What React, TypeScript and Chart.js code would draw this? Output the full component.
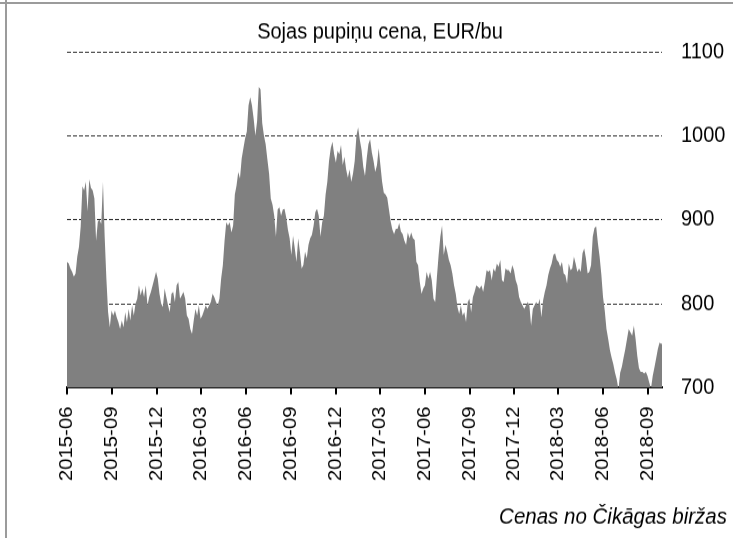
import React, { useEffect, useRef } from 'react';
import { Chart, registerables } from 'chart.js';

Chart.register(...registerables);

const chartTitle = 'Sojas pupiņu cena, EUR/bu';
const sourceNote = 'Cenas no Čikāgas biržas';

const tickLabels = [
  '2015-06', '2015-09', '2015-12', '2016-03', '2016-06', '2016-09', '2016-12',
  '2017-03', '2017-06', '2017-09', '2017-12', '2018-03', '2018-06', '2018-09',
];
const yTicks = [700, 800, 900, 1000, 1100];

const START_YEAR = 2015;
const START_MONTH = 6;
const STEP_DAYS = 3.5;
const X_MAX_DAYS = 1216;
const Y_MIN = 700;
const Y_MAX = 1100;

// Prices (EUR/bu), sampled twice a week from 2015-06-01
const pricesJun2015Dec2015 = [
  850, 848, 842, 838, 832, 836, 856, 868, 892, 940,
  935, 945, 910, 948, 938, 935, 925, 875, 898, 900,
  895, 945, 880, 830, 790, 772, 792, 786, 792, 784,
  778, 770, 780, 772, 790, 778, 794, 780, 798, 786,
  800, 806, 822, 810, 818, 808, 822, 798, 808, 814,
  822, 830, 838, 830, 812, 800,
];
const pricesDec2015Jul2016 = [
  796, 818, 808, 798, 790, 812, 814, 802, 822, 826,
  806, 810, 814, 806, 786, 782, 770, 764, 780, 794,
  786, 798, 782, 786, 792, 798, 794, 798, 802, 812,
  808, 802, 798, 806, 830, 846, 875, 897, 893, 897,
  885, 893, 930, 941, 957, 949, 973, 985, 997, 1005,
  1036, 1046, 1036, 1020, 1000, 1017, 1058, 1055,
];
const pricesJul2016Jan2017 = [
  1015, 1000, 990, 972, 955, 925, 918, 905, 880, 912,
  915, 905, 912, 913, 903, 888, 878, 858, 881, 866,
  850, 878, 862, 842, 846, 862, 854, 870, 878, 882,
  893, 909, 913, 905, 880, 897, 905, 930, 945, 970,
  985, 993, 978, 968, 982, 978, 989, 965, 975, 960,
  950, 960, 945, 955, 970, 1000, 1010,
];
const pricesJan2017Aug2017 = [
  995, 983, 963, 952, 973, 990, 996, 980, 970,
  957, 965, 985, 965, 945, 932, 930, 926, 912, 898,
  888, 883, 889, 889, 896, 886, 883, 875, 870, 885,
  878, 885, 878, 876, 850, 846, 826, 812, 818, 822,
  838, 830, 838, 828, 806, 802, 832, 858, 880, 893,
  858, 870, 862, 852, 846, 836, 822, 812,
];
const pricesAug2017Feb2018 = [
  796, 788, 798, 786, 790, 778, 802, 806, 790, 808,
  814, 822, 820, 818, 822, 814, 826, 840, 838, 840,
  828, 842, 838, 848, 844, 852, 828, 826, 842, 840,
  840, 836, 846, 840, 828, 822, 808, 802, 798, 794,
  798, 802, 798, 774, 794, 798, 802, 798, 806, 784,
  804, 814, 822, 834, 842, 848, 858, 860,
];
const pricesFeb2018Oct2018 = [
  852, 850, 844, 850, 836, 834, 824, 848, 840, 842,
  856, 848, 838, 842, 838, 860, 866, 854, 836, 838,
  846, 880, 890, 892, 872, 856, 835, 808, 792, 770,
  758, 745, 736, 728, 718, 710, 698, 718, 725, 736,
  746, 758, 770, 766, 762, 774, 758, 738, 723, 719,
  719, 717, 719, 714, 706, 699, 714, 724, 735, 746,
  754, 752, 755,
];

const FONT = "'Liberation Sans', Arial, Helvetica, sans-serif";

// The picture is vertically stretched: draw at this height, then scale to 538.
const PAGE_W = 733;
const PAGE_H = 538;
const DRAW_H = 489;

function dayOffset(label: string): number {
  const [y, m] = label.split('-').map(Number);
  return (Date.UTC(y, m - 1, 1) - Date.UTC(START_YEAR, START_MONTH - 1, 1)) / 86400000;
}

export default function App() {
  const canvasRef = useRef<HTMLCanvasElement | null>(null);

  useEffect(() => {
    const canvas = canvasRef.current;
    if (!canvas) return;
    const allPrices = [
      ...pricesJun2015Dec2015,
      ...pricesDec2015Jul2016,
      ...pricesJul2016Jan2017,
      ...pricesJan2017Aug2017,
      ...pricesAug2017Feb2018,
      ...pricesFeb2018Oct2018,
    ];
    const points = allPrices.map((v, i) => ({ x: i * STEP_DAYS, y: v }));
    const tickDays = tickLabels.map(dayOffset);

    const chart = new Chart(canvas, {
      type: 'line',
      data: {
        datasets: [
          {
            data: points,
            fill: 'start',
            backgroundColor: '#808080',
            borderColor: 'rgba(0,0,0,0)',
            borderWidth: 0,
            pointRadius: 0,
            tension: 0,
          },
        ],
      },
      options: {
        responsive: false,
        animation: false,
        devicePixelRatio: 1,
        layout: { padding: { left: 33, right: 6, top: 0, bottom: 0 } },
        plugins: {
          legend: { display: false },
          tooltip: { enabled: false },
          title: {
            display: true,
            text: chartTitle,
            color: '#000',
            font: { family: FONT, size: 20, weight: 'normal', lineHeight: 1.2 },
            padding: { top: 17, bottom: 6 },
          },
          subtitle: {
            display: true,
            position: 'bottom',
            align: 'end',
            text: sourceNote,
            color: '#000',
            font: { family: FONT, size: 20.5, style: 'italic', weight: 'normal', lineHeight: 1.2 },
            padding: { top: 0, bottom: 6 },
          },
        },
        scales: {
          x: {
            type: 'linear',
            position: 'bottom',
            min: 0,
            max: X_MAX_DAYS,
            afterBuildTicks: (s: any) => {
              s.ticks = tickDays.map((v) => ({ value: v }));
            },
            afterFit: (s: any) => {
              s.height = 106;
            },
            ticks: {
              autoSkip: false,
              minRotation: 90,
              maxRotation: 90,
              padding: 11,
              color: '#000',
              font: { family: FONT, size: 18.5 },
              callback: (v: any) => {
                const k = tickDays.indexOf(Number(v));
                return k >= 0 ? tickLabels[k] : '';
              },
            },
            grid: {
              drawOnChartArea: false,
              drawTicks: true,
              tickLength: 6,
              color: '#000',
              lineWidth: 2,
            },
            border: { display: true, color: '#000', width: 2 },
          },
          y: {
            position: 'right',
            min: Y_MIN,
            max: Y_MAX,
            afterBuildTicks: (s: any) => {
              s.ticks = yTicks.map((v) => ({ value: v }));
            },
            afterFit: (s: any) => {
              s.width = 65;
            },
            ticks: {
              padding: 19,
              color: '#000',
              font: { family: FONT, size: 20 },
              callback: (v: any) => String(v),
            },
            grid: {
              drawTicks: false,
              lineWidth: 1,
              color: (ctx: any) =>
                ctx.tick && ctx.tick.value === Y_MIN ? 'rgba(0,0,0,0)' : '#333333',
            },
            border: { display: false, dash: [4, 2] },
          },
          yL: {
            position: 'left',
            display: true,
            min: Y_MIN,
            max: Y_MAX,
            ticks: { display: false },
            grid: { display: false },
            border: { display: false },
            afterFit: (s: any) => {
              s.width = 34;
            },
          },
        },
      },
    } as any);

    return () => {
      chart.destroy();
    };
  }, []);

  return (
    <div
      style={{
        position: 'fixed',
        left: 0,
        top: 0,
        width: PAGE_W,
        height: PAGE_H,
        background: '#fff',
        overflow: 'hidden',
      }}
    >
      <div
        style={{
          position: 'absolute',
          left: 0,
          top: 0,
          width: PAGE_W,
          height: DRAW_H,
          transform: `scaleY(${PAGE_H / DRAW_H})`,
          transformOrigin: '0 0',
        }}
      >
        <canvas ref={canvasRef} width={PAGE_W} height={DRAW_H} />
      </div>
      <div style={{ position: 'absolute', left: 0, top: 2, width: PAGE_W, height: 2, background: '#9b9b9b' }} />
      <div style={{ position: 'absolute', left: 5, top: 0, width: 2, height: PAGE_H, background: '#9b9b9b' }} />
    </div>
  );
}
